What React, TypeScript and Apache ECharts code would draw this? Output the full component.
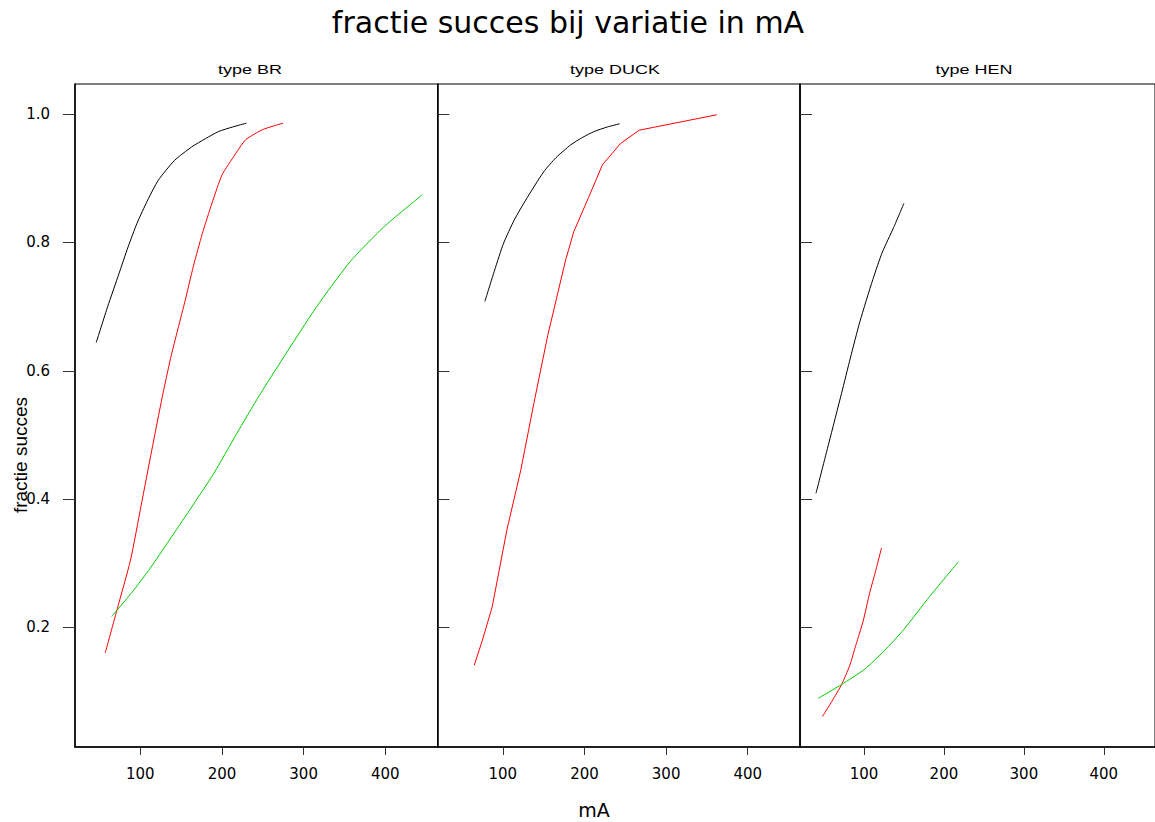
import { useEffect, useRef } from 'react';
import * as echarts from 'echarts';

// panel titles and tick values
const panels = ['type BR', 'type DUCK', 'type HEN'];
const xTicks = [100, 200, 300, 400];
const yTicks = [0.2, 0.4, 0.6, 0.8, 1.0];

// BR
const brBlack = [[46, 0.644], [60, 0.70], [74, 0.752], [85, 0.793], [96, 0.83], [109, 0.866], [122, 0.897], [142, 0.928], [163, 0.949], [180, 0.962], [196, 0.973], [213, 0.980], [230, 0.986]];
const brRed = [[57, 0.160], [72, 0.23], [88, 0.305], [101, 0.39], [114, 0.476], [127, 0.56], [137, 0.619], [146, 0.665], [155, 0.71], [165, 0.763], [176, 0.814], [188, 0.862], [200, 0.905], [216, 0.937], [229, 0.960], [250, 0.976], [275, 0.986]];
const brGreen = [[65, 0.217], [90, 0.255], [112, 0.292], [135, 0.335], [161, 0.384], [190, 0.44], [218, 0.502], [246, 0.562], [276, 0.622], [316, 0.70], [357, 0.77], [398, 0.824], [445, 0.874]];

// DUCK
const duckBlack = [[78, 0.708], [90, 0.757], [101, 0.799], [114, 0.835], [128, 0.866], [150, 0.910], [165, 0.932], [183, 0.952], [198, 0.964], [212, 0.973], [228, 0.980], [243, 0.985]];
const duckRed = [[65, 0.141], [75, 0.18], [87, 0.232], [105, 0.352], [122, 0.445], [138, 0.549], [155, 0.655], [177, 0.773], [187, 0.817], [205, 0.87], [222, 0.921], [244, 0.954], [267, 0.975], [362, 0.999]];

// HEN
const henBlack = [[40, 0.409], [56, 0.487], [72, 0.565], [83, 0.62], [95, 0.677], [111, 0.742], [123, 0.785], [137, 0.823], [150, 0.861]];
const henRed = [[48, 0.061], [60, 0.085], [72, 0.111], [82, 0.14], [90, 0.173], [99, 0.21], [107, 0.253], [115, 0.29], [122, 0.324]];
const henGreen = [[43, 0.0896], [72, 0.111], [101, 0.135], [125, 0.163], [150, 0.197], [182, 0.248], [218, 0.302]];

const BLACK = '#000000';
const RED = '#ff0000';
const GREEN = '#00cc00';
const FONT = 'DejaVu Sans, sans-serif';
const NARROW = 'Liberation Sans, Arial, sans-serif';

export default function App() {
  const chartRef = useRef<HTMLDivElement>(null);

  useEffect(() => {
    if (!chartRef.current) return;
    const chart = echarts.init(chartRef.current, undefined, { renderer: 'svg' });

    const panelLeft = [75, 437.5, 800];
    const panelW = 362.5;

    const grids = panelLeft.map((l) => ({
      left: l,
      top: 84,
      width: panelW,
      height: 663,
      show: true,
      borderColor: '#000',
      borderWidth: 1,
      backgroundColor: 'transparent',
    }));

    const xAxes = panelLeft.map((_, i) => ({
      type: 'value' as const,
      gridIndex: i,
      min: 20,
      max: 464,
      splitLine: { show: false },
      axisLine: { show: true, lineStyle: { color: '#000', width: 1.5 } },
      axisTick: { show: true, customValues: xTicks, length: 8, lineStyle: { color: '#333' } },
      axisLabel: {
        customValues: xTicks,
        margin: 19,
        fontSize: 15,
        color: '#000',
        fontFamily: FONT,
      },
    }));

    const yAxes = panelLeft.map((_, i) => ({
      type: 'value' as const,
      gridIndex: i,
      min: 0.0136,
      max: 1.047,
      splitLine: { show: false },
      axisLine: { show: true, lineStyle: { color: '#000', width: 1.5 } },
      axisTick: {
        show: true,
        customValues: yTicks,
        inside: i > 0,
        length: 12,
        lineStyle: { color: '#333' },
      },
      axisLabel: {
        show: i === 0,
        customValues: yTicks,
        margin: 25,
        fontSize: 15,
        color: '#000',
        fontFamily: FONT,
        formatter: (v: number) => v.toFixed(1),
      },
    }));

    const line = (name: string, data: number[][], color: string, idx: number, smooth: number | false) => ({
      name,
      type: 'line' as const,
      xAxisIndex: idx,
      yAxisIndex: idx,
      data,
      showSymbol: false,
      smooth,
      lineStyle: { color, width: 1 },
      itemStyle: { color },
    });

    const stripX = [250, 615, 974];

    chart.setOption({
      animation: false,
      backgroundColor: '#ffffff',
      grid: grids,
      xAxis: xAxes,
      yAxis: yAxes,
      series: [
        line('BR 1', brBlack, BLACK, 0, 0.2),
        line('BR 2', brRed, RED, 0, 0.2),
        line('BR 3', brGreen, GREEN, 0, 0.2),
        line('DUCK 1', duckBlack, BLACK, 1, 0.2),
        line('DUCK 2', duckRed, RED, 1, false),
        line('HEN 1', henBlack, BLACK, 2, 0.2),
        line('HEN 2', henRed, RED, 2, 0.2),
        line('HEN 3', henGreen, GREEN, 2, 0.2),
      ],
      graphic: [
        {
          type: 'text',
          x: 568,
          y: 22,
          style: {
            text: 'fractie succes bij variatie in mA',
            fontSize: 30,
            fontFamily: FONT,
            fill: '#000',
            align: 'center',
            verticalAlign: 'middle',
          },
        },
        ...panels.map((p, i) => ({
          type: 'text' as const,
          x: stripX[i],
          y: 70,
          scaleX: 1.5,
          style: {
            text: p,
            fontSize: 12,
            fontFamily: NARROW,
            fill: '#000',
            align: 'center',
            verticalAlign: 'middle',
          },
        })),
        {
          type: 'text',
          x: 20,
          y: 455,
          rotation: Math.PI / 2,
          style: {
            text: 'fractie succes',
            fontSize: 19,
            fontFamily: NARROW,
            fill: '#000',
            align: 'center',
            verticalAlign: 'middle',
          },
        },
        {
          type: 'text',
          x: 594,
          y: 810,
          style: {
            text: 'mA',
            fontSize: 19,
            fontFamily: FONT,
            fill: '#000',
            align: 'center',
            verticalAlign: 'middle',
          },
        },
      ],
    });

    return () => {
      chart.dispose();
    };
  }, []);

  return (
    <div
      ref={chartRef}
      style={{ position: 'absolute', left: 0, top: 0, width: '1155px', height: '822px' }}
    />
  );
}
